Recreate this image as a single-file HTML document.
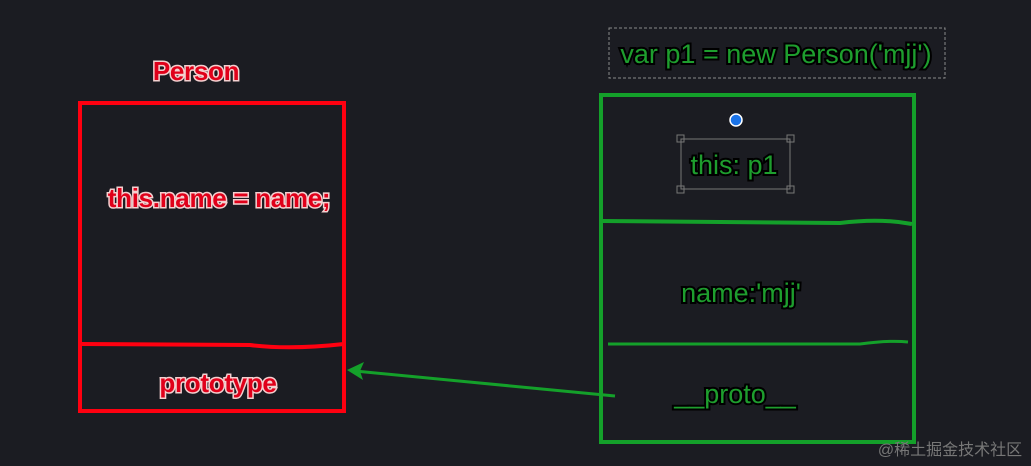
<!DOCTYPE html>
<html><head><meta charset="utf-8"><style>
html,body{margin:0;padding:0;background:#1b1c22;width:1031px;height:466px;overflow:hidden}
svg text{font-family:"Liberation Sans",sans-serif}
.r{fill:#e0001a;stroke:#f4d0d0;stroke-width:3;paint-order:stroke;font-weight:bold;font-size:26px;letter-spacing:-0.3px}
.g{fill:#1e9e2e;stroke:#000;stroke-width:4;paint-order:stroke;font-size:27px}
</style></head><body>
<svg width="1031" height="466" viewBox="0 0 1031 466">
<rect x="80" y="103" width="264" height="308" fill="none" stroke="#ff0010" stroke-width="4"/>
<path d="M80 344 L250 345 Q290 350 344 344" fill="none" stroke="#ff0010" stroke-width="4"/>
<text class="r" x="196" y="80" text-anchor="middle">Person</text>
<text class="r" x="219" y="207" text-anchor="middle">this.name = name;</text>
<text class="r" x="218" y="392" text-anchor="middle">prototype</text>
<rect x="609" y="28" width="336" height="50" fill="none" stroke="#8a8a8a" stroke-width="1" stroke-dasharray="3,2"/>
<text class="g" x="776" y="63" text-anchor="middle">var p1 = new Person('mjj')</text>
<rect x="601" y="95" width="313" height="347" fill="none" stroke="#14a02a" stroke-width="4"/>
<path d="M601 221 L840 223 Q880 218 912 224" fill="none" stroke="#14a02a" stroke-width="4"/>
<path d="M608 344 L860 344 Q890 340 908 342" fill="none" stroke="#14a02a" stroke-width="3"/>
<circle cx="736" cy="120" r="6" fill="#1a73e8" stroke="#fff" stroke-width="1.5"/>
<rect x="681" y="139" width="109" height="50" fill="none" stroke="#777" stroke-width="1"/>
<g fill="none" stroke="#777" stroke-width="1"><rect x="677" y="135" width="7" height="7"/><rect x="787" y="135" width="7" height="7"/><rect x="677" y="186" width="7" height="7"/><rect x="787" y="186" width="7" height="7"/></g>
<text class="g" x="734" y="174" text-anchor="middle">this: p1</text>
<text class="g" x="741" y="302" text-anchor="middle">name:'mjj'</text>
<text class="g" x="735" y="403" text-anchor="middle">__proto__</text>
<line x1="615" y1="396" x2="355" y2="371" stroke="#14a02a" stroke-width="3"/>
<path d="M347 370 L364 362 L360 371 L363 380 Z" fill="#14a02a"/>
<text x="950" y="455" fill="#777" font-size="16" text-anchor="middle" style="font-family:'Liberation Sans','Noto Sans CJK SC',sans-serif">@稀土掘金技术社区</text>
</svg>
</body></html>
